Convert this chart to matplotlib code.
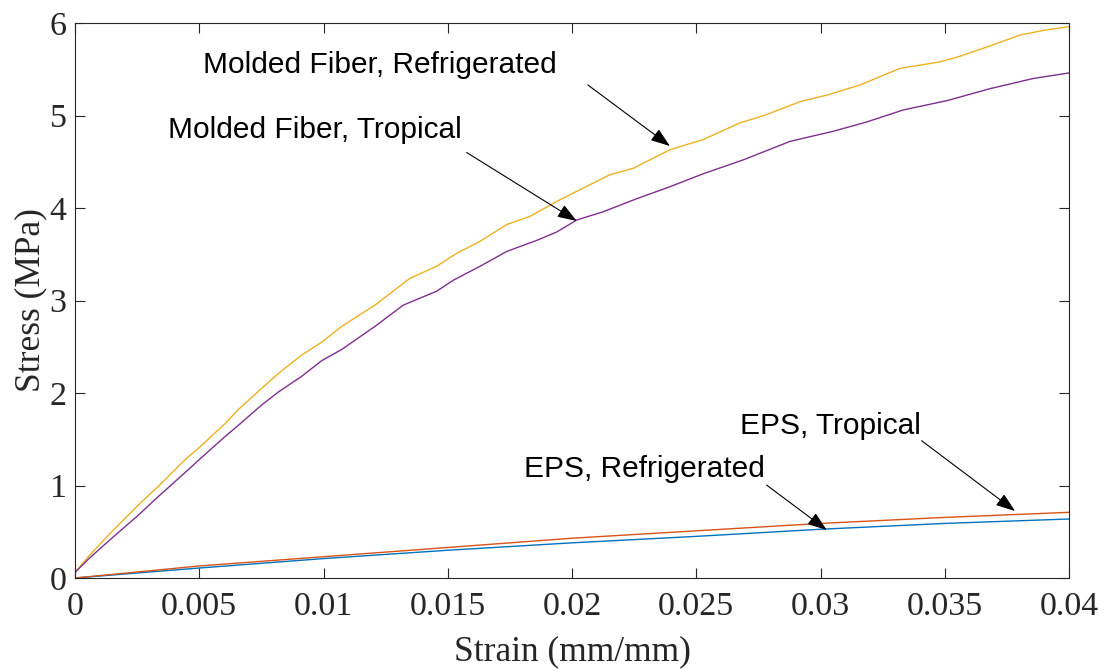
import matplotlib
matplotlib.use("Agg")
import matplotlib.pyplot as plt

# ---- data ----
mf_ref_strain = [0, 0.0006, 0.00148, 0.00255, 0.00335, 0.00443, 0.00496, 0.00604, 0.00657,
                 0.00751, 0.00818, 0.00912, 0.00993, 0.01073, 0.01207, 0.01348, 0.01455,
                 0.01536, 0.0163, 0.01737, 0.01831, 0.01938, 0.02019, 0.02153, 0.02247,
                 0.02394, 0.02528, 0.02676, 0.02783, 0.02918, 0.03025, 0.03159, 0.0332,
                 0.03481, 0.03561, 0.03669, 0.03803, 0.03897, 0.04]
mf_ref_stress = [0.06, 0.25, 0.50, 0.79, 0.99, 1.28, 1.40, 1.67, 1.82,
                 2.05, 2.21, 2.41, 2.55, 2.72, 2.95, 3.24, 3.37,
                 3.51, 3.64, 3.82, 3.91, 4.07, 4.18, 4.36, 4.43,
                 4.63, 4.74, 4.92, 5.01, 5.15, 5.22, 5.33, 5.51,
                 5.58, 5.64, 5.74, 5.87, 5.92, 5.96]

mf_trop_strain = [0, 0.0006, 0.00148, 0.00255, 0.00335, 0.00443, 0.00496, 0.00604, 0.00657,
                  0.00751, 0.00818, 0.00912, 0.00993, 0.01073, 0.01207, 0.01321, 0.01455,
                  0.01523, 0.0163, 0.01737, 0.01858, 0.01938, 0.02019, 0.02126, 0.0226,
                  0.02394, 0.02528, 0.02689, 0.02877, 0.03052, 0.03186, 0.03333, 0.03508,
                  0.03682, 0.03856, 0.04]
mf_trop_stress = [0.06, 0.22, 0.43, 0.68, 0.88, 1.14, 1.27, 1.53, 1.65,
                  1.87, 2.01, 2.18, 2.35, 2.47, 2.72, 2.95, 3.10,
                  3.22, 3.37, 3.53, 3.65, 3.74, 3.87, 3.96, 4.10,
                  4.23, 4.37, 4.52, 4.72, 4.83, 4.93, 5.06, 5.16,
                  5.29, 5.40, 5.46]

eps_strain = [0, 0.005, 0.01, 0.015, 0.02, 0.025, 0.03, 0.035, 0.04]
eps_trop_stress = [0, 0.13, 0.23, 0.33, 0.43, 0.51, 0.59, 0.655, 0.71]
eps_ref_stress = [0, 0.108, 0.21, 0.30, 0.38, 0.45, 0.527, 0.59, 0.638]

x_ticks = [0, 0.005, 0.01, 0.015, 0.02, 0.025, 0.03, 0.035, 0.04]
x_tick_labels = ["0", "0.005", "0.01", "0.015", "0.02", "0.025", "0.03", "0.035", "0.04"]
y_ticks = [0, 1, 2, 3, 4, 5, 6]

labels = ["Molded Fiber, Refrigerated", "Molded Fiber, Tropical", "EPS, Tropical", "EPS, Refrigerated"]
label_pos = [(0.00515, 5.456), (0.00374, 4.754), (0.02676, 1.557), (0.01807, 1.089)]
arrow_tail = [(0.02064, 5.33), (0.01576, 4.60), (0.03407, 1.484), (0.02783, 1.005)]
arrow_tip = [(0.02394, 4.67), (0.02019, 3.86), (0.03783, 0.724), (0.03025, 0.519)]

# ---- figure ----
fig = plt.figure(figsize=(11.06, 6.69), dpi=100)
ax = fig.add_axes([75 / 1106, 91 / 669, 994 / 1106, 555 / 669])

lw = 1.0
ax.plot(eps_strain, eps_ref_stress, color="#0072BD", lw=lw)
ax.plot(eps_strain, eps_trop_stress, color="#D95319", lw=lw)
ax.plot(mf_ref_strain, mf_ref_stress, color="#EDB120", lw=lw)
ax.plot(mf_trop_strain, mf_trop_stress, color="#7E2F8E", lw=lw)

ax.set_xlim(0, 0.04)
ax.set_ylim(0, 6)
ax.set_xticks(x_ticks)
ax.set_xticklabels(x_tick_labels)
ax.set_yticks(y_ticks)

serif = ["Liberation Serif", "DejaVu Serif"]
for lab in ax.get_xticklabels() + ax.get_yticklabels():
    lab.set_fontfamily(serif)
    lab.set_fontsize(24.5)
    lab.set_color("#262626")

ax.tick_params(direction="in", length=7, width=0.8, top=True, right=True,
               colors="#262626", pad=6)
ax.tick_params(axis="x", pad=10)
for s in ax.spines.values():
    s.set_color("#262626")
    s.set_linewidth(0.8)

ax.set_xlabel("Strain (mm/mm)", fontfamily=serif, fontsize=25.5, color="#262626", labelpad=9)
ax.set_ylabel("Stress (MPa)", fontfamily=serif, fontsize=25.5, color="#262626", labelpad=2)

for txt, pos, tail, tip in zip(labels, label_pos, arrow_tail, arrow_tip):
    ax.text(pos[0], pos[1], txt, fontfamily=["Liberation Sans", "DejaVu Sans"],
            fontsize=21.5, ha="left", va="baseline", color="black")
    ax.annotate("", xy=tip, xytext=tail,
                arrowprops=dict(arrowstyle="-|>,head_length=0.7,head_width=0.25",
                                color="black", lw=0.8, shrinkA=0, shrinkB=0,
                                mutation_scale=17))

fig.savefig("out.png", dpi=100)
